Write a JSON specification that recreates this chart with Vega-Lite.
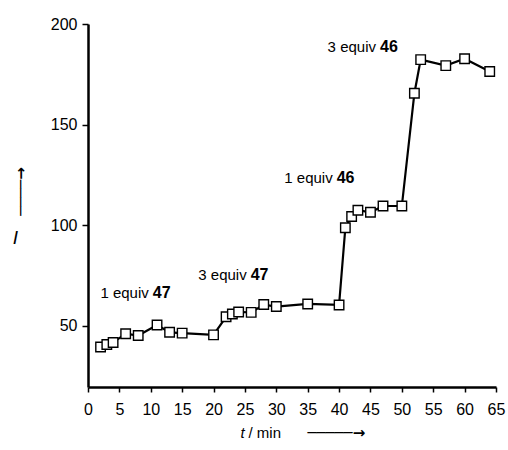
{
  "$schema": "https://vega.github.io/schema/vega-lite/v6.json",
  "autosize": {"type": "none"},
  "padding": {"left": 88, "top": 24, "right": 12, "bottom": 63},
  "width": 408,
  "height": 363,
  "background": "white",
  "datasets": {
    "pts": [
      {"t": 2, "I": 39.4}, {"t": 3, "I": 40.6}, {"t": 4, "I": 41.6}, {"t": 6, "I": 46.0},
      {"t": 8, "I": 45.1}, {"t": 11, "I": 50.3}, {"t": 13, "I": 46.7}, {"t": 15, "I": 46.3},
      {"t": 20, "I": 45.4}, {"t": 22, "I": 54.4}, {"t": 23, "I": 55.8}, {"t": 24, "I": 56.8},
      {"t": 26, "I": 56.6}, {"t": 28, "I": 60.5}, {"t": 30, "I": 59.5}, {"t": 35, "I": 60.8},
      {"t": 40, "I": 60.3}, {"t": 41, "I": 98.7}, {"t": 42, "I": 104.3}, {"t": 43, "I": 107.4},
      {"t": 45, "I": 106.4}, {"t": 47, "I": 109.5}, {"t": 50, "I": 109.5}, {"t": 52, "I": 165.6},
      {"t": 53, "I": 182.3}, {"t": 57, "I": 179.3}, {"t": 60, "I": 182.7}, {"t": 64, "I": 176.4}
    ],
    "notes": [
      {"t": 10.0, "I": 66.2, "a": "1 equiv", "b": "47"},
      {"t": 25.6, "I": 75.2, "a": "3 equiv", "b": "47"},
      {"t": 39.3, "I": 123.4, "a": "1 equiv", "b": "46"},
      {"t": 46.2, "I": 188.7, "a": "3 equiv", "b": "46"}
    ]
  },
  "config": {
    "view": {"stroke": null},
    "font": "Liberation Sans",
    "axis": {
      "grid": false,
      "domainColor": "black",
      "domainWidth": 2.5,
      "tickColor": "black",
      "tickWidth": 1.5,
      "labelFont": "Liberation Sans",
      "labelFontSize": 16,
      "labelColor": "black",
      "titleColor": "black",
      "titleFont": "Liberation Sans",
      "titleFontWeight": "normal"
    }
  },
  "resolve": {"axis": {"x": "independent", "y": "independent"}},
  "layer": [
    {
      "data": {"name": "pts"},
      "mark": {"type": "line", "color": "black", "strokeWidth": 2.2},
      "encoding": {
        "x": {
          "field": "t", "type": "quantitative",
          "scale": {"domain": [0, 65], "nice": false, "zero": false},
          "axis": {
            "orient": "bottom",
            "values": [0, 5, 10, 15, 20, 25, 30, 35, 40, 45, 50, 55, 60, 65],
            "tickSize": 5, "labelPadding": 9, "labelFlush": false,
            "title": "t", "titleFontStyle": "italic", "titleFontSize": 15,
            "titleX": 152, "titleY": 50, "titleAlign": "left", "titleBaseline": "alphabetic"
          }
        },
        "y": {
          "field": "I", "type": "quantitative",
          "scale": {"domain": [19.5, 200], "nice": false, "zero": false},
          "axis": {
            "orient": "left",
            "values": [50, 100, 150, 200],
            "tickSize": 6, "labelPadding": 5, "labelFlush": false,
            "title": "I", "titleFontStyle": "italic", "titleFontSize": 19, "titleAngle": 0,
            "titleX": -73, "titleY": 219, "titleAlign": "center", "titleBaseline": "alphabetic"
          }
        }
      }
    },
    {
      "data": {"name": "pts"},
      "mark": {"type": "point", "shape": "square", "filled": true, "fill": "white", "stroke": "black", "strokeWidth": 1.4, "size": 90, "opacity": 1},
      "encoding": {
        "x": {
          "field": "t", "type": "quantitative",
          "axis": {
            "orient": "bottom", "domain": false, "ticks": false, "labels": false,
            "title": "/ min", "titleFontSize": 15,
            "titleX": 160, "titleY": 50, "titleAlign": "left", "titleBaseline": "alphabetic"
          }
        },
        "y": {
          "field": "I", "type": "quantitative",
          "axis": {
            "orient": "left", "domain": false, "ticks": false, "labels": false,
            "title": "────→", "titleFontSize": 15, "titleFont": "DejaVu Sans", "titleFontWeight": "bold", "titleAngle": 270,
            "titleX": -68, "titleY": 167, "titleAlign": "center", "titleBaseline": "middle"
          }
        }
      }
    },
    {
      "data": {"name": "notes"},
      "mark": {"type": "text", "align": "right", "baseline": "middle", "dx": -2, "fontSize": 15, "color": "black"},
      "encoding": {
        "x": {
          "field": "t", "type": "quantitative",
          "axis": {
            "orient": "bottom", "domain": false, "ticks": false, "labels": false,
            "title": "─────→", "titleFontSize": 15, "titleFont": "DejaVu Sans", "titleFontWeight": "bold",
            "titleX": 219, "titleY": 45, "titleAlign": "left", "titleBaseline": "middle"
          }
        },
        "y": {"field": "I", "type": "quantitative", "axis": null},
        "text": {"field": "a"}
      }
    },
    {
      "data": {"name": "notes"},
      "mark": {"type": "text", "align": "left", "baseline": "middle", "dx": 2, "fontSize": 16, "fontWeight": "bold", "color": "black"},
      "encoding": {
        "x": {"field": "t", "type": "quantitative", "axis": null},
        "y": {"field": "I", "type": "quantitative", "axis": null},
        "text": {"field": "b"}
      }
    }
  ]
}
